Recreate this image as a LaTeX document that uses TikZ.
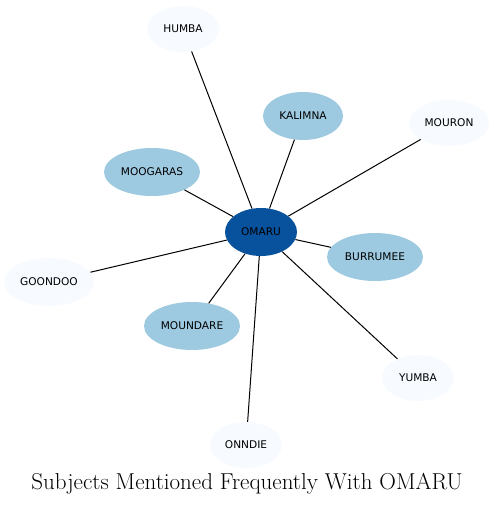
\documentclass[tikz,border=0pt]{standalone}
\usepackage{fontspec}
\usetikzlibrary{shapes.geometric}
\newfontfamily\nodefont{DejaVu Sans}
\definecolor{dark}{HTML}{08519C}
\definecolor{mid}{HTML}{9ECAE1}
\definecolor{pale}{HTML}{F7FBFF}
\begin{document}
\begin{tikzpicture}[x=1pt,y=-1pt,
  nd/.style={ellipse,inner sep=0pt,font=\nodefont\fontsize{10.6}{12}\selectfont},
  e/.style={draw=black,line width=1pt}]
\useasboundingbox (0,0) rectangle (495,506);
\node[nd,fill=dark,minimum width=72pt,minimum height=48pt] (omaru) at (261,232) {OMARU};
\node[nd,fill=pale,minimum width=72pt,minimum height=46pt] (humba) at (183,29) {HUMBA};
\node[nd,fill=mid,minimum width=80pt,minimum height=48pt] (kalimna) at (303,116) {KALIMNA};
\node[nd,fill=pale,minimum width=80pt,minimum height=46pt] (mouron) at (449,123) {MOURON};
\node[nd,fill=mid,minimum width=96pt,minimum height=48pt] (moogaras) at (152,172) {MOOGARAS};
\node[nd,fill=mid,minimum width=96pt,minimum height=48pt] (burrumee) at (375,257) {BURRUMEE};
\node[nd,fill=pale,minimum width=90pt,minimum height=48pt] (goondoo) at (49,282) {GOONDOO};
\node[nd,fill=mid,minimum width=96pt,minimum height=48pt] (moundare) at (192,326) {MOUNDARE};
\node[nd,fill=pale,minimum width=72pt,minimum height=46pt] (yumba) at (418,378) {YUMBA};
\node[nd,fill=pale,minimum width=72pt,minimum height=46pt] (onndie) at (246,445) {ONNDIE};
\foreach \t in {humba,kalimna,mouron,moogaras,burrumee,goondoo,moundare,yumba,onndie}
  \draw[e] (omaru) -- (\t);
\node (title) at (247,484) {\fontsize{23}{26}\selectfont Subjects Mentioned Frequently With OMARU};
\end{tikzpicture}
\end{document}
